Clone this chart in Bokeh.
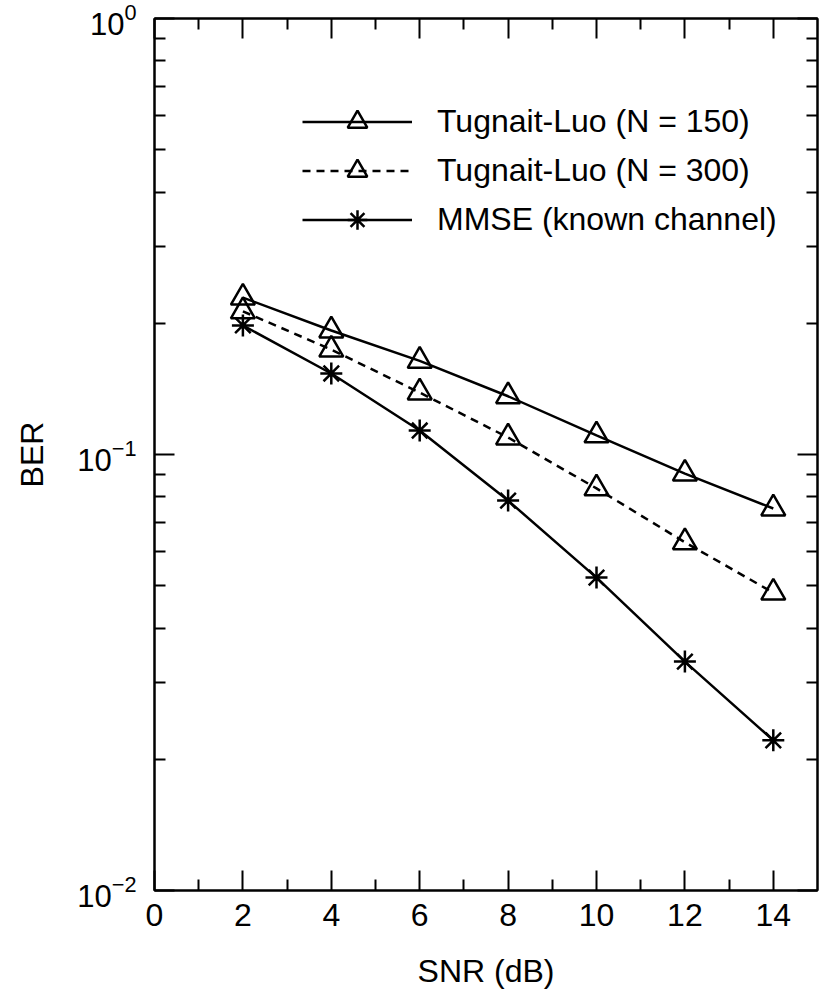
from bokeh.plotting import figure
from bokeh.models import (FixedTicker, LinearAxis, LogAxis, Legend, LegendItem,
                          CustomJSTickFormatter)
from bokeh.embed import file_html
from bokeh.resources import INLINE

# ---- data ----
snr = [2, 4, 6, 8, 10, 12, 14]
ber_tl150 = [0.229, 0.1925, 0.164, 0.136, 0.1106, 0.0904, 0.0752]
ber_tl300 = [0.213, 0.174, 0.1387, 0.1094, 0.0836, 0.0629, 0.0482]
ber_mmse = [0.1977, 0.1534, 0.1135, 0.0784, 0.0522, 0.0335, 0.0221]

labels = ["Tugnait-Luo (N = 150)", "Tugnait-Luo (N = 300)", "MMSE (known channel)"]
x_major = [0, 2, 4, 6, 8, 10, 12, 14]
x_minor = [1, 3, 5, 7, 9, 11, 13]
y_major = [0.01, 0.1, 1]
y_minor = [0.02, 0.03, 0.04, 0.05, 0.06, 0.07, 0.08, 0.09,
           0.2, 0.3, 0.4, 0.5, 0.6, 0.7, 0.8, 0.9]

FONT = "Liberation Sans"

p = figure(width=826, height=1000, x_range=(0, 15), y_range=(0.01, 1),
           y_axis_type="log", output_backend="svg", toolbar_location=None,
           min_border_left=154, min_border_right=9, min_border_top=18,
           min_border_bottom=110, background_fill_color="white",
           border_fill_color="white")
p.grid.visible = False
p.outline_line_color = "black"
p.outline_line_width = 2

bottom_ax = p.below[0]
left_ax = p.left[0]

xt = FixedTicker(ticks=x_major, minor_ticks=x_minor)
yt = FixedTicker(ticks=y_major, minor_ticks=y_minor)
bottom_ax.ticker = xt
left_ax.ticker = yt

blank = CustomJSTickFormatter(code="return '';")
top_ax = LinearAxis(ticker=xt, formatter=blank, major_label_standoff=0)
right_ax = LogAxis(ticker=yt, formatter=blank, major_label_standoff=0)
p.add_layout(top_ax, "above")
p.add_layout(right_ax, "right")

for ax in [bottom_ax, left_ax, top_ax, right_ax]:
    ax.axis_line_color = "black"
    ax.axis_line_width = 2
    ax.major_tick_line_color = "black"
    ax.major_tick_line_width = 2
    ax.minor_tick_line_color = "black"
    ax.minor_tick_line_width = 2
    ax.major_tick_in = 20
    ax.major_tick_out = 0
    ax.minor_tick_in = 11
    ax.minor_tick_out = 0
    ax.major_label_text_font = FONT
    ax.major_label_text_color = "black"
    ax.axis_label_text_font = FONT
    ax.axis_label_text_font_style = "normal"
    ax.axis_label_text_color = "black"

bottom_ax.major_label_text_font_size = "32px"
bottom_ax.major_label_standoff = 13
bottom_ax.axis_label = "SNR (dB)"
bottom_ax.axis_label_text_font_size = "32px"
bottom_ax.axis_label_standoff = 24

left_ax.major_label_text_font_size = "31px"
left_ax.major_label_standoff = 18
left_ax.axis_label = "BER"
left_ax.axis_label_text_font_size = "32px"
left_ax.axis_label_standoff = 24

# ---- series ----
l1 = p.line(snr, ber_tl150, line_color="black", line_width=2.5)
m1 = p.scatter(snr, ber_tl150, marker="triangle", size=24, fill_color=None,
               line_color="black", line_width=2.5)
l2 = p.line(snr, ber_tl300, line_color="black", line_width=2.5, line_dash="8 6")
m2 = p.scatter(snr, ber_tl300, marker="triangle", size=24, fill_color=None,
               line_color="black", line_width=2.5)
l3 = p.line(snr, ber_mmse, line_color="black", line_width=2.5)
m3 = p.scatter(snr, ber_mmse, marker="asterisk", size=22,
               line_color="black", line_width=2.5)

legend = Legend(items=[LegendItem(label=labels[0], renderers=[l1, m1]),
                       LegendItem(label=labels[1], renderers=[l2, m2]),
                       LegendItem(label=labels[2], renderers=[l3, m3])],
                location=(148, 646), glyph_width=110, glyph_height=49,
                label_height=49, spacing=0, padding=0, margin=0,
                label_standoff=25, border_line_color=None,
                background_fill_alpha=0,
                label_text_font=FONT, label_text_font_size="32px",
                label_text_color="black")
p.add_layout(legend, "center")

open("out.html", "w").write(file_html(p, INLINE))
